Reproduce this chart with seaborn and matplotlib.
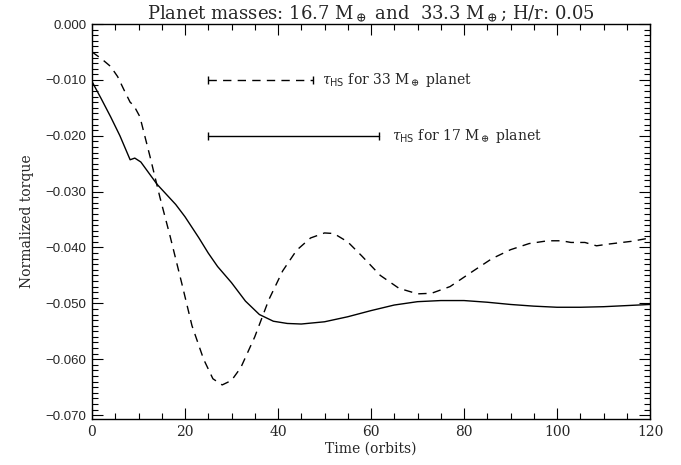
import numpy as np
import pandas as pd
import matplotlib
matplotlib.use('Agg')
import matplotlib.pyplot as plt
import seaborn as sns

# ---- data ----
t_17 = [0, 2, 4, 6, 8.2, 9.2, 10.5, 14, 18, 20, 23, 25, 27, 30, 33, 36, 39, 42, 45,
        50, 55, 60, 65, 70, 75, 80, 85, 90, 95, 100, 105, 110, 115, 120]
torque_17 = [-0.0103, -0.0134, -0.0166, -0.0200, -0.0243, -0.0240, -0.0247, -0.0287,
             -0.0323, -0.0345, -0.0383, -0.0410, -0.0434, -0.0463, -0.0496, -0.0520,
             -0.0532, -0.0536, -0.0537, -0.0533, -0.0524, -0.0513, -0.0503, -0.0497,
             -0.0495, -0.0495, -0.0498, -0.0502, -0.0505, -0.0507, -0.0507, -0.0506,
             -0.0504, -0.0502]

t_33 = [0, 2, 4, 5.5, 7, 8.2, 9, 10.3, 12.5, 14.6, 16.8, 19.3, 21.5, 24, 26, 28, 30,
        32, 35, 38, 41, 44, 47, 50, 52, 55, 58, 62, 66, 70, 73, 77, 82, 86, 90, 94,
        98, 101, 103, 106, 108.5, 111, 116, 120]
torque_33 = [-0.0050, -0.0062, -0.0076, -0.0094, -0.0120, -0.0140, -0.0146, -0.0166,
             -0.0238, -0.0310, -0.0380, -0.0464, -0.0540, -0.0600, -0.0635, -0.0646,
             -0.0638, -0.0615, -0.0560, -0.0494, -0.0442, -0.0405, -0.0383, -0.0374,
             -0.0375, -0.0390, -0.0415, -0.0450, -0.0473, -0.0483, -0.0482, -0.0470,
             -0.0442, -0.0420, -0.0404, -0.0393, -0.0388, -0.0388, -0.0391, -0.0391,
             -0.0397, -0.0394, -0.0389, -0.0383]

# horizontal-scale bars (tau_HS)
bar_33_x = [25, 47.5]
bar_33_y = [-0.010, -0.010]
bar_17_x = [25, 61.7]
bar_17_y = [-0.020, -0.020]

df = pd.concat([
    pd.DataFrame({'time': t_17, 'torque': torque_17, 'planet': '17'}),
    pd.DataFrame({'time': t_33, 'torque': torque_33, 'planet': '33'}),
])

sns.set_style('ticks')
plt.rcParams['lines.scale_dashes'] = False
plt.rcParams['mathtext.fontset'] = 'dejavuserif'

fig = plt.figure(figsize=(6.81, 4.65), dpi=100)
ax = fig.add_axes([92/681, 1 - 419/465, 558/681, 395/465])

sns.lineplot(data=df, x='time', y='torque', style='planet',
             dashes={'17': '', '33': (6, 4.5)}, color='black', lw=1.0,
             sort=False, estimator=None, legend=False, ax=ax)

ax.plot(bar_33_x, bar_33_y, color='black', lw=1.0, ls=(0, (6, 4.5)))
ax.plot(bar_33_x, bar_33_y, color='black', ls='none', marker='|', ms=6, mew=1.0)
ax.plot(bar_17_x, bar_17_y, color='black', lw=1.0, marker='|', ms=6, mew=1.0)

serif = 'DejaVu Serif'
ax.text(49.5, -0.010, r'$\tau_{\mathsf{HS}}$ for 33 M$_\oplus$ planet', fontsize=10,
        family=serif, va='center', ha='left')
ax.text(64.5, -0.020, r'$\tau_{\mathsf{HS}}$ for 17 M$_\oplus$ planet', fontsize=10,
        family=serif, va='center', ha='left')

ax.set_xlim(0, 120)
ax.set_ylim(-0.0707, 0.0)
ax.set_xticks(np.arange(0, 121, 20))
ax.set_xticks(np.arange(0, 121, 5), minor=True)
ax.set_yticks(np.arange(-0.07, 0.0001, 0.01))
ax.set_yticks(np.arange(-0.07, 0.0001, 0.001), minor=True)
ax.set_yticklabels([f'{v:.3f}'.replace('-0.000', '0.000').replace('-', '\u2212')
                    for v in np.arange(-0.07, 0.0001, 0.01)],
                   family='Liberation Sans', fontsize=9.5)
ax.set_xticklabels([str(v) for v in range(0, 121, 20)], family=serif, fontsize=10)
ax.tick_params(which='both', direction='in', top=True, right=True, color='black')
ax.tick_params(which='major', length=8, width=0.8, pad=4)
ax.tick_params(which='minor', length=4, width=0.8)
for s in ax.spines.values():
    s.set_linewidth(1.0)
    s.set_color('black')

ax.set_xlabel('Time (orbits)', family=serif, fontsize=10, labelpad=2)
ax.set_ylabel('Normalized torque', family=serif, fontsize=10, labelpad=8)
ax.set_title(r'Planet masses: 16.7 M$_\oplus$ and  33.3 M$_\oplus$; H/r: 0.05',
             family=serif, fontsize=13, pad=3)

fig.savefig('out.png', dpi=100)
